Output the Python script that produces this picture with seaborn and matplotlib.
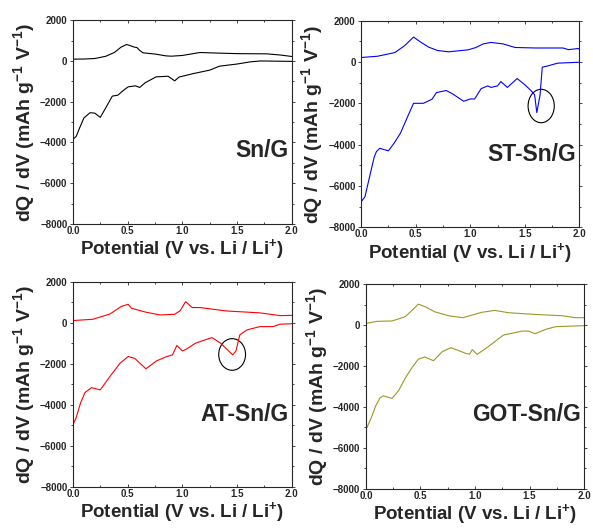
import numpy as np
import pandas as pd
import seaborn as sns
import matplotlib.pyplot as plt
from matplotlib.patches import Ellipse
from matplotlib.ticker import MultipleLocator

# Sn/G
sn_v_up = [0.0, 0.10, 0.20, 0.30, 0.38, 0.44, 0.49, 0.53, 0.56, 0.585, 0.61, 0.64, 0.75, 0.85, 0.90, 1.00, 1.16, 1.30, 1.50, 1.77, 1.90, 2.0]
sn_q_up = [90, 95, 120, 230, 420, 680, 810, 740, 680, 660, 520, 400, 340, 250, 235, 270, 415, 390, 360, 350, 290, 220]
sn_v_dn = [0.0, 0.03, 0.06, 0.10, 0.156, 0.20, 0.25, 0.30, 0.36, 0.41, 0.46, 0.505, 0.57, 0.61, 0.66, 0.76, 0.87, 0.93, 0.97, 1.10, 1.25, 1.34, 1.50, 1.62, 1.71, 2.0]
sn_q_dn = [-3850, -3700, -3300, -2800, -2540, -2560, -2770, -2300, -1725, -1680, -1450, -1270, -1220, -1300, -1070, -780, -750, -975, -790, -620, -450, -255, -150, -45, 0, -20]

# ST-Sn/G
st_v_up = [0.0, 0.15, 0.31, 0.40, 0.48, 0.55, 0.62, 0.70, 0.80, 0.98, 1.05, 1.12, 1.19, 1.30, 1.41, 1.60, 1.85, 1.90, 1.99, 2.0]
st_q_up = [220, 280, 460, 800, 1210, 950, 720, 560, 495, 590, 700, 880, 950, 880, 705, 680, 680, 600, 655, 620]
st_v_dn = [0.0, 0.035, 0.08, 0.12, 0.14, 0.17, 0.25, 0.30, 0.36, 0.43, 0.48, 0.54, 0.57, 0.65, 0.69, 0.78, 0.84, 0.94, 1.0, 1.04, 1.10, 1.16, 1.19, 1.25, 1.28, 1.34, 1.43, 1.50, 1.56, 1.59, 1.61, 1.64, 1.66, 1.71, 1.80, 2.0]
st_q_dn = [-6770, -6530, -5500, -4600, -4340, -4180, -4300, -3950, -3450, -2600, -2000, -2000, -2000, -1800, -1480, -1380, -1550, -1900, -1790, -1790, -1290, -1155, -1230, -1155, -945, -1230, -800, -1100, -1400, -1590, -2450, -1590, -250, -190, -55, -10]

# AT-Sn/G
at_v_up = [0.0, 0.185, 0.34, 0.44, 0.505, 0.535, 0.67, 0.795, 0.93, 0.98, 1.03, 1.09, 1.16, 1.40, 1.71, 1.90, 2.0]
at_q_up = [115, 180, 440, 800, 910, 715, 520, 390, 420, 600, 1040, 750, 750, 585, 490, 355, 370]
at_v_dn = [0.0, 0.03, 0.07, 0.11, 0.17, 0.25, 0.34, 0.43, 0.505, 0.565, 0.667, 0.765, 0.86, 0.91, 0.95, 1.0, 1.04, 1.12, 1.27, 1.35, 1.46, 1.49, 1.525, 1.59, 1.71, 1.83, 1.89, 2.0]
at_q_dn = [-4990, -4620, -3900, -3400, -3160, -3270, -2600, -1970, -1640, -1730, -2240, -1850, -1640, -1560, -1100, -1370, -1270, -990, -715, -990, -1560, -1370, -585, -340, -180, -180, -65, -40]

# GOT-Sn/G
got_v_up = [0.0, 0.10, 0.24, 0.36, 0.42, 0.48, 0.55, 0.63, 0.76, 0.89, 1.06, 1.18, 1.31, 1.55, 1.80, 1.92, 2.0]
got_q_up = [80, 180, 200, 405, 700, 1020, 880, 650, 450, 360, 620, 715, 600, 520, 455, 360, 360]
got_v_dn = [0.0, 0.05, 0.09, 0.13, 0.16, 0.24, 0.30, 0.36, 0.42, 0.48, 0.54, 0.62, 0.70, 0.78, 0.92, 0.95, 0.975, 1.02, 1.12, 1.26, 1.43, 1.49, 1.55, 1.66, 1.74, 2.0]
got_q_dn = [-5120, -4520, -3950, -3550, -3460, -3580, -3200, -2600, -2100, -1670, -1560, -1740, -1300, -1105, -1390, -1420, -1200, -1430, -1060, -490, -295, -295, -420, -190, -80, -30]

names = ['Sn/G', 'ST-Sn/G', 'AT-Sn/G', 'GOT-Sn/G']
colors = ['black', '#0000ff', '#ff0000', '#999922']
curves = [
    (sn_v_up, sn_q_up, sn_v_dn, sn_q_dn),
    (st_v_up, st_q_up, st_v_dn, st_q_dn),
    (at_v_up, at_q_up, at_v_dn, at_q_dn),
    (got_v_up, got_q_up, got_v_dn, got_q_dn),
]
label_y = [-4370, -4500, -4450, -4390]
# circled features (center V, center dQ, width, height)
circles = {1: (1.65, -2130, 0.24, 1620), 2: (1.455, -1540, 0.245, 1545)}

sns.set_style('ticks')
plt.rcParams['font.family'] = ['Liberation Sans', 'DejaVu Sans']
plt.rcParams['mathtext.fontset'] = 'custom'
plt.rcParams['mathtext.bf'] = 'Liberation Sans:bold'
plt.rcParams['mathtext.rm'] = 'Liberation Sans:bold'
plt.rcParams['mathtext.default'] = 'bf'

fig = plt.figure(figsize=(5.93, 5.32), dpi=100)
boxes = [
    [0.123, 0.579, 0.369, 0.383],
    [0.609, 0.573, 0.368, 0.388],
    [0.123, 0.085, 0.369, 0.385],
    [0.617, 0.081, 0.368, 0.385],
]

for i, box in enumerate(boxes):
    ax = fig.add_axes(box)
    v_up, q_up, v_dn, q_dn = curves[i]
    up = pd.DataFrame({'V': v_up, 'dQdV': q_up})
    dn = pd.DataFrame({'V': v_dn, 'dQdV': q_dn})
    sns.lineplot(data=up, x='V', y='dQdV', sort=False, estimator=None, color=colors[i], lw=0.8, ax=ax)
    sns.lineplot(data=dn, x='V', y='dQdV', sort=False, estimator=None, color=colors[i], lw=0.8, ax=ax)
    if i in circles:
        cx, cy, w, h = circles[i]
        ax.add_patch(Ellipse((cx, cy), w, h, fill=False, ec='black', lw=0.8))
    ax.text(1.97, label_y[i], names[i], ha='right', va='center', fontsize=16.5,
            fontweight='bold')
    ax.set_xlim(0, 2.0)
    ax.set_ylim(-8000, 2000)
    ax.xaxis.set_major_locator(MultipleLocator(0.5))
    ax.xaxis.set_minor_locator(MultipleLocator(0.25))
    ax.yaxis.set_major_locator(MultipleLocator(2000))
    ax.yaxis.set_minor_locator(MultipleLocator(1000))
    ax.xaxis.set_major_formatter(plt.FormatStrFormatter('%.1f'))
    ax.tick_params(which='both', top=True, right=True, width=0.6, labelsize=7, pad=1.5)
    ax.tick_params(axis='x', which='both', direction='in')
    ax.tick_params(axis='y', which='both', direction='out')
    ax.tick_params(which='major', length=2.5)
    ax.tick_params(which='minor', length=1.5)
    for lab in ax.get_xticklabels() + ax.get_yticklabels():
        lab.set_fontweight('bold')
    for s in ax.spines.values():
        s.set_linewidth(0.8)
    ax.set_xlabel('Potential (V vs. Li / Li$^{+}$)', fontsize=13.5, fontweight='bold', labelpad=1)
    ax.set_ylabel('dQ / dV (mAh g$^{-1}$ V$^{-1}$)', fontsize=14, fontweight='bold', labelpad=2)

fig.savefig('out.png', dpi=100)
